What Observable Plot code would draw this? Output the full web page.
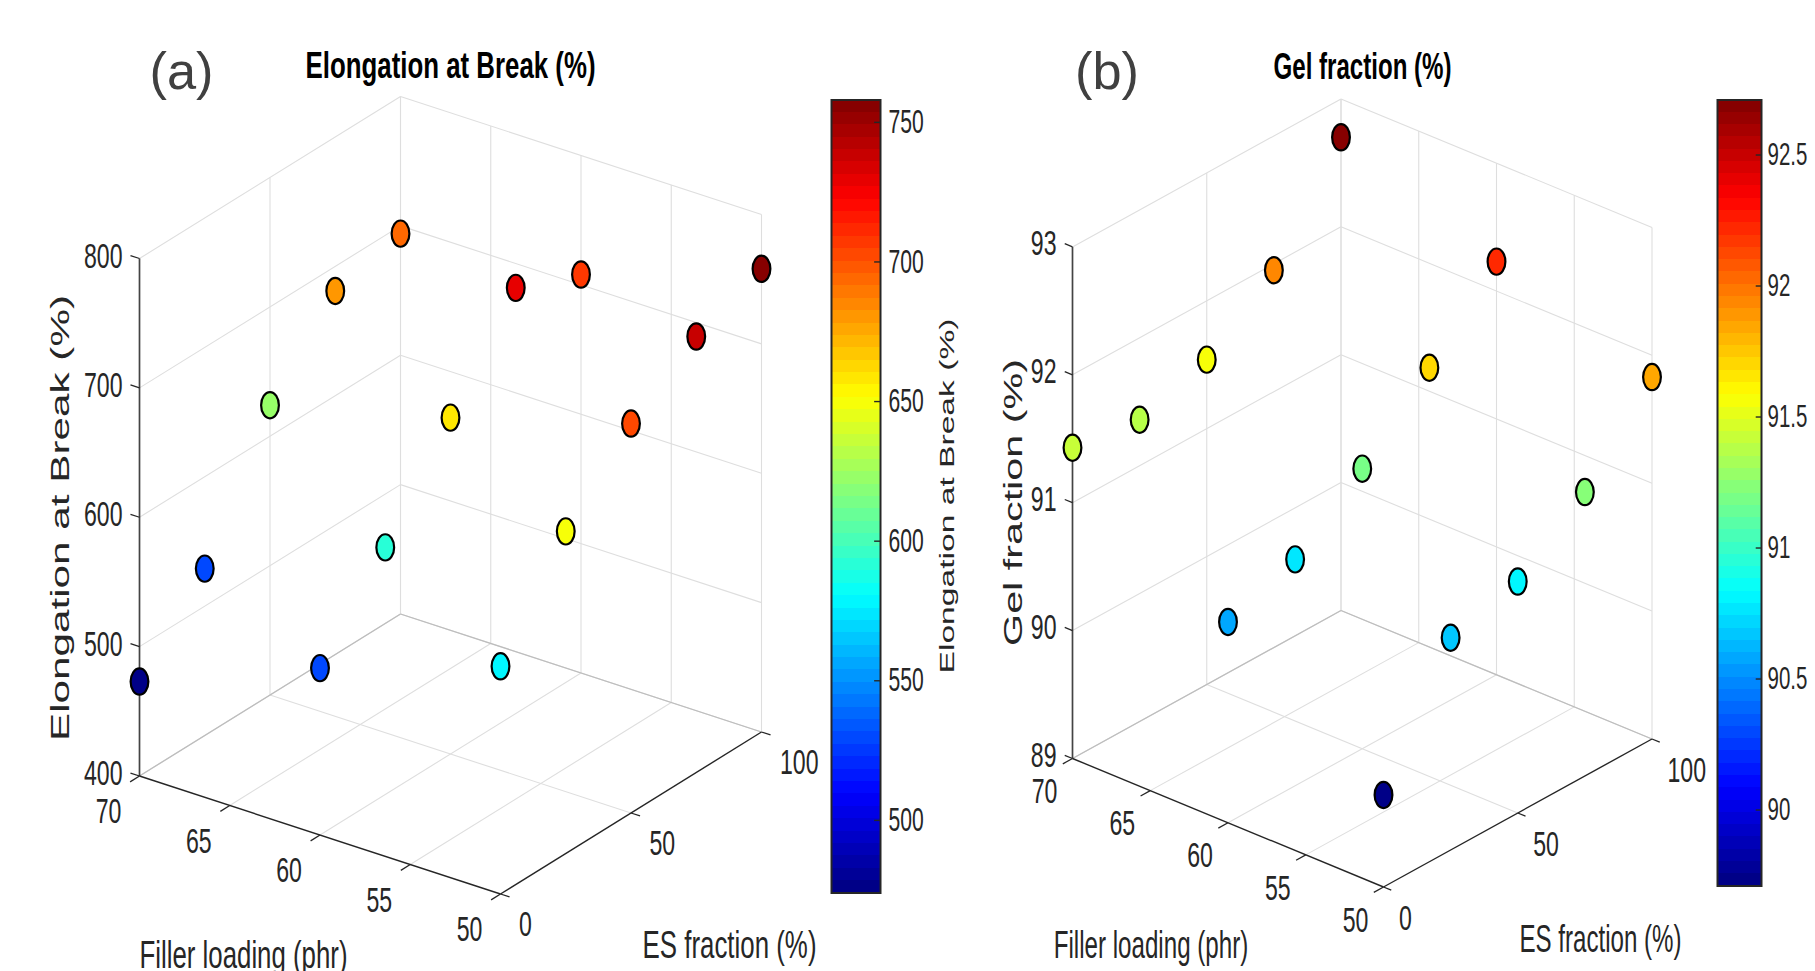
<!DOCTYPE html>
<html>
<head>
<meta charset="utf-8">
<script src="https://cdn.jsdelivr.net/npm/d3@7"></script>
<script src="https://cdn.jsdelivr.net/npm/@observablehq/plot@0.6"></script>
<style>
html,body{margin:0;padding:0;background:#fff;width:1815px;height:971px;overflow:hidden}
#root{position:relative;width:1815px;height:971px;overflow:hidden}
#root svg{position:absolute;top:0;overflow:visible}
</style>
</head>
<body>
<div id="root"></div>
<script>
const fillerLevels = [70, 60, 50];
const esLevels = [0, 25, 50, 75, 100];
const elongation70 = [473, 529, 624, 681, 694];
const elongation60 = [529, 591, 660, 729, 708];
const elongation50 = [576, 649, 701, 737, 758];
const gel70 = [91.43, 91.36, 91.54, 91.95, 92.70];
const gel60 = [90.57, 90.77, 91.19, 91.69, 92.23];
const gel50 = [89.72, 90.66, 90.81, 91.22, 91.83];

const fillerTicks = [70, 65, 60, 55, 50];
const esTicks = [0, 50, 100];
const elongationTicks = [400, 500, 600, 700, 800];
const gelTicks = [89, 90, 91, 92, 93];
const elongationBarTicks = [500, 550, 600, 650, 700, 750];
const gelBarTicks = [90, 90.5, 91, 91.5, 92, 92.5];

const FONT = "'Liberation Sans', Arial, sans-serif";
const INK = "#262626";

function jet(t) {
  const i = Math.min(63, Math.max(0, Math.floor(t * 64)));
  const u = (i + 0.5) / 64;
  const c = v => Math.round(255 * Math.max(0, Math.min(1, v)));
  return `rgb(${c(Math.min(4 * u - 1.5, 4.5 - 4 * u))},${c(Math.min(4 * u - 0.5, 3.5 - 4 * u))},${c(Math.min(4 * u + 0.5, 2.5 - 4 * u))})`;
}

// tall, narrow marker: the source figure was stretched vertically
const tallDot = {
  draw(ctx, size) {
    const r = Math.sqrt(size / Math.PI), rx = r * 0.88, ry = r * 1.3, k = 0.5523;
    ctx.moveTo(rx, 0);
    ctx.bezierCurveTo(rx, k * ry, k * rx, ry, 0, ry);
    ctx.bezierCurveTo(-k * rx, ry, -rx, k * ry, -rx, 0);
    ctx.bezierCurveTo(-rx, -k * ry, -k * rx, -ry, 0, -ry);
    ctx.bezierCurveTo(k * rx, -ry, rx, -k * ry, rx, 0);
    ctx.closePath();
  }
};

function fitText(svg, lengths, factor) {
  svg.querySelectorAll("text").forEach(t => {
    const s = t.textContent;
    const len = lengths[s] !== undefined ? lengths[s] : t.getComputedTextLength() * factor;
    t.setAttribute("textLength", len);
    t.setAttribute("lengthAdjust", "spacingAndGlyphs");
  });
}

function label(text, cx, cy, o) {
  return Plot.text([text], {
    text: d => d, frameAnchor: "top-left", dx: cx, dy: cy,
    textAnchor: "middle", lineAnchor: "middle", fontFamily: FONT, fill: INK, ...o
  });
}

function panel(cfg) {
  const {left, front, back, h, zTicks, values} = cfg;
  const W = front[0] - left[0] + back[0] - left[0];
  const [z0, z1] = [zTicks[0], zTicks[zTicks.length - 1]];
  const X = (f, e) => ((70 - f) / 20 * (front[0] - left[0]) + e / 100 * (back[0] - left[0])) / W;
  const Y = (f, e, z) => ((z - z0) / (z1 - z0) * h - (70 - f) / 20 * (front[1] - left[1]) + e / 100 * (left[1] - back[1])) / h;
  const seg = (a, b) => ({x1: X(a[0], a[1]), y1: Y(...a), x2: X(b[0], b[1]), y2: Y(...b)});
  const link = (data, stroke, strokeWidth) => Plot.link(data, {x1: "x1", y1: "y1", x2: "x2", y2: "y2", stroke, strokeWidth});

  const wall = [];
  for (const z of zTicks) {
    wall.push(seg([70, 0, z], [70, 100, z]), seg([70, 100, z], [50, 100, z]));
  }
  for (const e of [50, 100]) wall.push(seg([70, e, z0], [70, e, z1]));
  for (const f of fillerTicks) wall.push(seg([f, 100, z0], [f, 100, z1]));
  const floor = [];
  for (const f of fillerTicks.slice(1, 4)) floor.push(seg([f, 0, z0], [f, 100, z0]));
  floor.push(seg([70, 50, z0], [50, 50, z0]));
  const floorEdge = [seg([70, 0, z0], [70, 100, z0]), seg([70, 100, z0], [50, 100, z0])];
  const axes = [seg([70, 0, z0], [50, 0, z0]), seg([50, 0, z0], [50, 100, z0])];
  const fTicks = fillerTicks.map(f => seg([f, 0, z0], [f, -3.6, z0]));
  const eTicks = esTicks.map(e => seg([50, e, z0], [49.5, e, z0]));
  const vTicks = zTicks.map(z => seg([70, 0, z], [70.5, 0, z]));
  const zAxis = [seg([70, 0, z0], [70, 0, z1])];

  const points = [];
  fillerLevels.forEach((f, i) => esLevels.forEach((e, j) => {
    const v = values[i][j];
    points.push({x: X(f, e), y: Y(f, e, v), v});
  }));

  const tickText = (data, txt, o) => Plot.text(data, {
    x: d => d.x, y: d => d.y, text: txt, fontFamily: FONT, fill: INK,
    fontSize: cfg.tickFont, lineAnchor: "middle", ...o
  });

  const svg = Plot.plot({
    width: cfg.width, height: 971, margin: 0,
    style: {background: "transparent", fontFamily: FONT},
    x: {domain: [0, 1], range: [left[0] - cfg.offset, left[0] - cfg.offset + W], axis: null},
    y: {domain: [0, 1], range: [left[1], left[1] - h], axis: null},
    color: {type: "linear", domain: cfg.colorDomain, interpolate: jet, clamp: true},
    marks: [
      link(wall, "#dedede", 1.1),
      link(floor, "#dedede", 1.1),
      link(floorEdge, "#bdbdbd", 1.3),
      link(zAxis, "#444444", 1.7),
      link(axes, INK, 1.4),
      link(fTicks, INK, 1.3),
      link(eTicks, INK, 1.3),
      link(vTicks, INK, 1.3),
      tickText(fillerTicks.map(f => ({x: X(f, 0), y: Y(f, 0, z0), t: f})), d => d.t, {dx: cfg.fOff[0], dy: cfg.fOff[1]}),
      tickText(esTicks.map(e => ({x: X(50, e), y: Y(50, e, z0), t: e})), d => d.t, {textAnchor: "start", dx: cfg.eOff[0], dy: cfg.eOff[1]}),
      tickText(zTicks.map(z => ({x: X(70, 0), y: Y(70, 0, z), t: z})), d => d.t, {textAnchor: "end", dx: cfg.zOff[0], dy: cfg.zOff[1]}),
      Plot.dot(points, {x: "x", y: "y", fill: "v", stroke: "#000", strokeWidth: 2.2, r: 10.1, symbol: tallDot}),
      ...cfg.labels
    ]
  });
  svg.style.left = cfg.offset + "px";
  document.getElementById("root").appendChild(svg);
  fitText(svg, cfg.lengths, 0.66);
}

function colorbar(cfg) {
  const [lo, hi] = cfg.domain;
  const step = (hi - lo) / 64;
  const bands = d3.range(64).map(i => ({y1: lo + i * step, y2: lo + (i + 1) * step, v: lo + (i + 0.5) * step}));
  const svg = Plot.plot({
    width: cfg.barW + 70, height: 971,
    marginLeft: 0, marginRight: 70, marginTop: cfg.top, marginBottom: 971 - cfg.bottom,
    style: {background: "transparent", fontFamily: FONT},
    x: {domain: [0, 1], axis: null},
    y: {domain: cfg.domain, axis: null},
    color: {type: "linear", domain: cfg.domain, interpolate: jet, clamp: true},
    marks: [
      Plot.rect(bands, {x1: 0, x2: 1, y1: "y1", y2: "y2", fill: "v", shapeRendering: "crispEdges"}),
      Plot.ruleY(cfg.ticks, {x1: 0.88, x2: 1, stroke: INK, strokeWidth: 1.4}),
      Plot.frame({stroke: INK, strokeWidth: 2}),
      Plot.axisY(cfg.ticks, {anchor: "right", tickSize: 0, tickPadding: cfg.pad, label: null, fontSize: cfg.font, fill: INK, fontFamily: FONT, tickFormat: d => String(d)})
    ]
  });
  svg.style.left = cfg.left + "px";
  document.getElementById("root").appendChild(svg);
  fitText(svg, {}, 0.64);
}

panel({
  offset: 0, width: 975,
  left: [139, 775.5], front: [500, 893.5], back: [400, 613.5], h: 517.5,
  zTicks: elongationTicks, values: [elongation70, elongation60, elongation50],
  colorDomain: [473, 758], tickFont: 35,
  fOff: [-31, 36], eOff: [18.5, 31], zOff: [-17, -2],
  lengths: {"(a)": 64, "Elongation at Break (%)": 290, "Filler loading (phr)": 208, "ES fraction (%)": 174},
  labels: [
    label("(a)", 181, 72, {fontSize: 52, fill: "#404040"}),
    label("Elongation at Break (%)", 450, 66, {fontSize: 37, fontWeight: "bold", fill: "#000"}),
    label("Filler loading (phr)", 243, 955, {fontSize: 39}),
    label("ES fraction (%)", 729, 945, {fontSize: 39})
  ]
});

// the rotated axis titles are stretched along their length, so each gets its own length
function rotated(offset, text, cx, cy, len, size) {
  const svg = Plot.plot({
    width: 200, height: 971, margin: 0,
    style: {background: "transparent", fontFamily: FONT},
    x: {axis: null}, y: {axis: null},
    marks: [label(text, cx - offset, cy, {fontSize: size, rotate: -90})]
  });
  svg.style.left = offset + "px";
  document.getElementById("root").appendChild(svg);
  fitText(svg, {[text]: len}, 1);
}
rotated(0, "Elongation at Break (%)", 60, 517.5, 446, 25);
rotated(900, "Elongation at Break (%)", 947, 495.5, 355, 20);
rotated(975, "Gel fraction (%)", 1013, 502, 287, 25);

colorbar({left: 831, barW: 49, top: 99.5, bottom: 892.5, domain: [474, 758], ticks: elongationBarTicks, font: 33, pad: 8});

panel({
  offset: 975, width: 840,
  left: [1072, 758], front: [1383, 886.5], back: [1340.5, 610], h: 511.6,
  zTicks: gelTicks, values: [gel70, gel60, gel50],
  colorDomain: [89.71, 92.70], tickFont: 35,
  fOff: [-28, 33.5], eOff: [15.5, 32], zOff: [-16, -3],
  lengths: {"(b)": 64, "Gel fraction (%)": 178, "Filler loading (phr)": 194.5, "ES fraction (%)": 162},
  labels: [
    label("(b)", 1106.5 - 975, 72, {fontSize: 52, fill: "#404040"}),
    label("Gel fraction (%)", 1362 - 975, 67, {fontSize: 37, fontWeight: "bold", fill: "#000"}),
    label("Filler loading (phr)", 1150.5 - 975, 945, {fontSize: 39}),
    label("ES fraction (%)", 1600 - 975, 939, {fontSize: 39})
  ]
});

colorbar({left: 1716.5, barW: 44, top: 99.5, bottom: 885.5, domain: [89.71, 92.71], ticks: gelBarTicks, font: 32, pad: 6});
</script>
</body>
</html>
